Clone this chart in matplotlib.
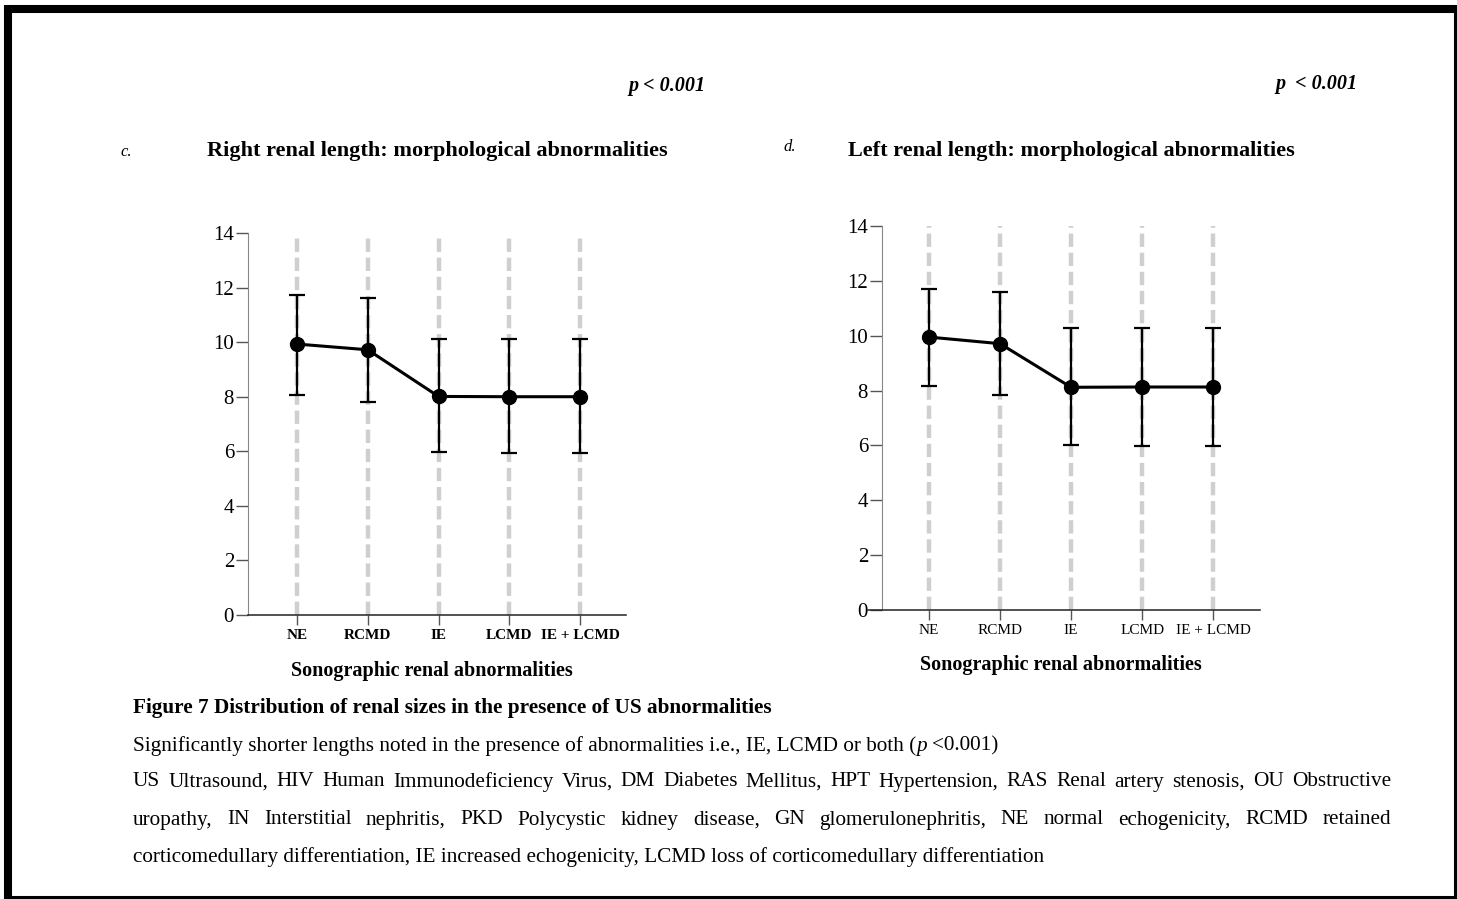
import numpy as np
import matplotlib
matplotlib.use("Agg")
import matplotlib.pyplot as plt
from matplotlib.patches import Rectangle

plt.rcParams['font.family'] = ['Liberation Serif', 'DejaVu Serif']

# данные
categories = ['NE', 'RCMD', 'IE', 'LCMD', 'IE + LCMD']

right_mean = np.array([9.93, 9.72, 8.01, 8.00, 8.00])
right_low = np.array([8.07, 7.79, 5.98, 5.93, 5.93])
right_high = np.array([11.74, 11.60, 10.11, 10.11, 10.11])

left_mean = np.array([9.95, 9.71, 8.12, 8.13, 8.13])
left_low = np.array([8.15, 7.85, 6.02, 5.99, 5.99])
left_high = np.array([11.70, 11.60, 10.28, 10.28, 10.28])

yticks = [0, 2, 4, 6, 8, 10, 12, 14]

W, H = 1457, 899
fig = plt.figure(figsize=(W / 100, H / 100), dpi=100)
renderer = fig.canvas.get_renderer()


def fbox(x0, y0, x1, y1):
    # пиксели (сверху вниз) -> доли фигуры
    return [x0 / W, 1 - y1 / H, (x1 - x0) / W, (y1 - y0) / H]


def txt(x, y, s, **kw):
    kw.setdefault('va', 'center')
    kw.setdefault('ha', 'left')
    return fig.text(x / W, 1 - y / H, s, **kw)


def draw_panel(ax, mean, low, high, xlim, spine_x, bold):
    x = np.arange(len(categories))
    for s in ['top', 'right']:
        ax.spines[s].set_visible(False)
    if spine_x is not None:
        ax.spines['left'].set_position(('data', spine_x))
    ax.spines['left'].set_color('#888888')
    ax.spines['bottom'].set_color('#222222')
    ax.spines['bottom'].set_linewidth(1.1)

    ax.vlines(x, 0, 14, colors='#cfcfcf', linestyles=[(0, (3, 1.3))], lw=3.2, zorder=1)
    ax.errorbar(x, mean, yerr=[mean - low, high - mean], fmt='-o', color='black',
                lw=2.2, ms=10, elinewidth=1.6, capsize=5.5, capthick=1.6, zorder=3)
    ax.set_xlim(*xlim)
    ax.set_ylim(0, 14)
    ax.set_yticks(yticks)
    ax.set_xticks(x)
    ax.set_xticklabels(categories, fontsize=11, fontweight='bold' if bold else 'normal')
    ax.set_yticklabels([str(v) for v in yticks])
    ax.tick_params(axis='y', length=9, width=1, color='#555555', pad=1, labelsize=15)
    ax.tick_params(axis='x', length=7, width=1, color='#555555', pad=3)
    ax.patch.set_alpha(0)


axL = fig.add_axes(fbox(248, 233, 626, 615))
draw_panel(axL, right_mean, right_low, right_high, (-0.693, 4.65), None, True)

axR = fig.add_axes(fbox(868, 226, 1260, 610))
draw_panel(axR, left_mean, left_low, left_high, (-0.859, 4.66), -0.662, False)

# заголовки панелей
txt(628, 86, 'p < 0.001', fontsize=14.5, fontweight='bold', fontstyle='italic')
txt(1275, 84, 'p  < 0.001', fontsize=14.5, fontweight='bold', fontstyle='italic')
txt(120, 152, 'c.', fontsize=12, fontstyle='italic')
txt(783, 147, 'd.', fontsize=12, fontstyle='italic')
txt(207, 151, 'Right renal length: morphological abnormalities', fontsize=16, fontweight='bold')
txt(848, 151, 'Left renal length: morphological abnormalities', fontsize=16, fontweight='bold')
txt(432, 671, 'Sonographic renal abnormalities', fontsize=14.5, fontweight='bold', ha='center')
txt(1061, 665, 'Sonographic renal abnormalities', fontsize=14.5, fontweight='bold', ha='center')

# подпись к рисунку
cap_size = 15.3
txt(133, 708, 'Figure 7 Distribution of renal sizes in the presence of US abnormalities',
    fontsize=cap_size, fontweight='bold')


def width(t):
    return t.get_window_extent(renderer).width


def space_w(size):
    a = txt(0, 0, 'x x', fontsize=size)
    b = txt(0, 0, 'xx', fontsize=size)
    w = width(a) - width(b)
    a.remove()
    b.remove()
    return w


sp = space_w(cap_size)
x = 133
pieces = [('Significantly shorter lengths noted in the presence of abnormalities i.e., IE, LCMD or both (', 'normal', 0),
          ('p', 'italic', sp), ('<0.001)', 'normal', 0)]
for s, style, after in pieces:
    t = txt(x, 746, s, fontsize=cap_size, fontstyle=style)
    x += width(t) + after


def justify(line, y, x0, x1):
    words = line.split()
    ts = [txt(0, y, w, fontsize=cap_size) for w in words]
    ws = [width(t) for t in ts]
    gap = (x1 - x0 - sum(ws)) / (len(words) - 1)
    xx = x0
    for t, w in zip(ts, ws):
        t.set_x(xx / W)
        xx += w + gap


justify('US Ultrasound, HIV Human Immunodeficiency Virus, DM Diabetes Mellitus, HPT Hypertension, '
        'RAS Renal artery stenosis, OU Obstructive', 782, 133, 1391)
justify('uropathy, IN Interstitial nephritis, PKD Polycystic kidney disease, GN glomerulonephritis, '
        'NE normal echogenicity, RCMD retained', 820, 133, 1391)
txt(133, 857, 'corticomedullary differentiation, IE increased echogenicity, LCMD loss of corticomedullary '
    'differentiation', fontsize=cap_size)

# рамка
fig.patches.append(Rectangle((8 / W, 1 - 900 / H), 1450 / W, 891 / H, transform=fig.transFigure,
                             fill=False, edgecolor='black', lw=5.8, clip_on=False))

fig.savefig('out.png', dpi=100)
